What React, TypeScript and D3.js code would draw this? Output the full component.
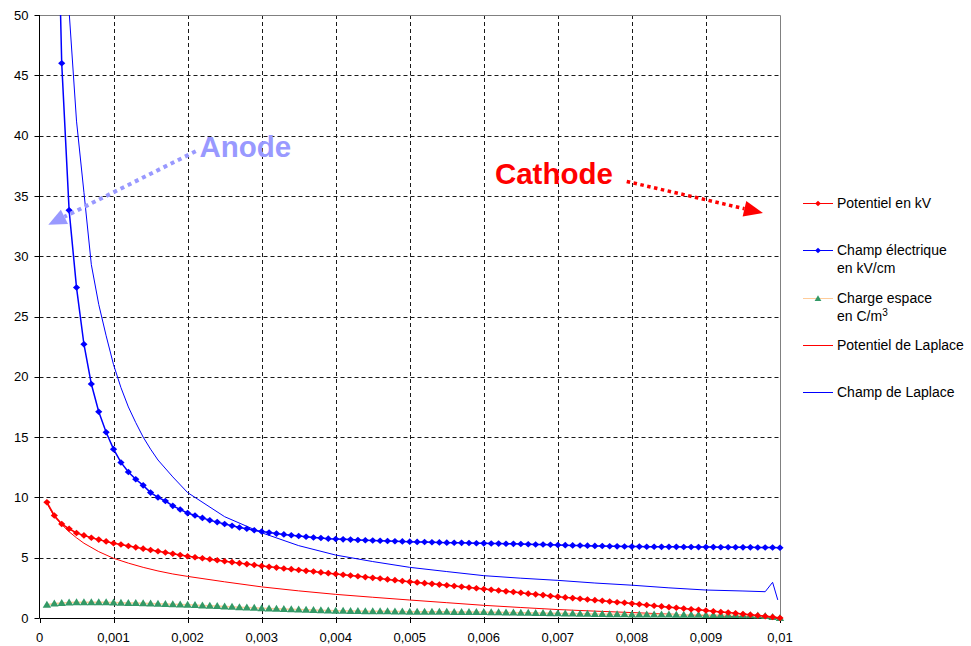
import { useEffect, useRef } from "react";
import * as d3 from "d3";

const W = 971;
const H = 646;

// abscisses communes des séries à marqueurs (m)
const xValues = d3.range(1, 101).map((i) => i / 10000);

const potentiel = [
  9.6, 8.5, 7.8, 7.4, 7.05, 6.85, 6.65, 6.5, 6.35, 6.2,
  6.09, 5.97, 5.86, 5.75, 5.64, 5.54, 5.43, 5.33, 5.22, 5.12,
  5.04, 4.96, 4.87, 4.79, 4.71, 4.63, 4.55, 4.47, 4.39, 4.31,
  4.24, 4.18, 4.11, 4.05, 3.98, 3.91, 3.85, 3.78, 3.72, 3.65,
  3.59, 3.52, 3.46, 3.39, 3.33, 3.27, 3.2, 3.14, 3.07, 3.01,
  2.95, 2.89, 2.83, 2.77, 2.71, 2.65, 2.59, 2.53, 2.47, 2.4,
  2.34, 2.28, 2.21, 2.15, 2.09, 2.02, 1.96, 1.9, 1.83, 1.77,
  1.71, 1.65, 1.6, 1.54, 1.48, 1.43, 1.37, 1.31, 1.26, 1.2,
  1.14, 1.08, 1.02, 0.96, 0.9, 0.85, 0.79, 0.73, 0.68, 0.62,
  0.56, 0.5, 0.45, 0.39, 0.33, 0.27, 0.21, 0.15, 0.08, 0.0,
];

const champ = [
  140, 72, 46, 33.8, 27.4, 22.7, 19.4, 17.1, 15.4, 14.0,
  12.9, 12.1, 11.5, 11.0, 10.4, 10.0, 9.7, 9.3, 9.0, 8.7,
  8.5, 8.3, 8.1, 7.95, 7.8, 7.65, 7.5, 7.4, 7.28, 7.17,
  7.08, 7.0, 6.93, 6.86, 6.8, 6.74, 6.68, 6.63, 6.58, 6.55,
  6.52, 6.5, 6.47, 6.45, 6.43, 6.41, 6.39, 6.37, 6.35, 6.33,
  6.31, 6.3, 6.28, 6.27, 6.25, 6.24, 6.23, 6.22, 6.2, 6.19,
  6.18, 6.17, 6.16, 6.15, 6.13, 6.12, 6.1, 6.09, 6.07, 6.05,
  6.04, 6.02, 6.01, 6.0, 5.98, 5.97, 5.95, 5.94, 5.93, 5.92,
  5.92, 5.91, 5.91, 5.9, 5.9, 5.9, 5.89, 5.89, 5.88, 5.88,
  5.88, 5.87, 5.87, 5.87, 5.86, 5.86, 5.85, 5.85, 5.84, 5.83,
];

const charge = [
  1.1, 1.2, 1.25, 1.28, 1.3, 1.31, 1.31, 1.31, 1.3, 1.28,
  1.27, 1.25, 1.24, 1.22, 1.2, 1.18, 1.16, 1.14, 1.12, 1.1,
  1.07, 1.04, 1.02, 0.99, 0.96, 0.93, 0.9, 0.87, 0.84, 0.81,
  0.79, 0.77, 0.75, 0.73, 0.71, 0.69, 0.67, 0.65, 0.63, 0.61,
  0.6, 0.59, 0.58, 0.57, 0.56, 0.56, 0.55, 0.54, 0.53, 0.52,
  0.52, 0.52, 0.51, 0.51, 0.51, 0.5, 0.5, 0.5, 0.49, 0.49,
  0.48, 0.47, 0.46, 0.45, 0.44, 0.43, 0.42, 0.41, 0.4, 0.39,
  0.38, 0.37, 0.36, 0.35, 0.34, 0.33, 0.32, 0.32, 0.31, 0.3,
  0.3, 0.29, 0.29, 0.28, 0.28, 0.27, 0.27, 0.26, 0.26, 0.25,
  0.25, 0.25, 0.24, 0.24, 0.23, 0.22, 0.2, 0.16, 0.08, 0.0,
];

// courbes de Laplace (traits seuls)
const xPotLaplace = [
  0.0001, 0.0002, 0.0003, 0.0004, 0.0005, 0.0006, 0.0008, 0.001, 0.0012, 0.0014,
  0.0016, 0.0018, 0.002, 0.0025, 0.003, 0.0035, 0.004, 0.0045, 0.005, 0.0055,
  0.006, 0.0065, 0.007, 0.0075, 0.008, 0.0085, 0.009, 0.0095, 0.01,
];
const potLaplace = [
  9.5, 8.4, 7.75, 7.15, 6.65, 6.2, 5.5, 4.95, 4.55, 4.2,
  3.9, 3.65, 3.45, 3.0, 2.58, 2.25, 1.96, 1.72, 1.49, 1.27,
  1.05, 0.87, 0.7, 0.57, 0.45, 0.32, 0.2, 0.1, 0,
];

const xChampLaplace = [
  0.0003, 0.0004, 0.0005, 0.0006, 0.0007, 0.0008, 0.0009, 0.001, 0.0011, 0.0012,
  0.0013, 0.0014, 0.0015, 0.0016, 0.0018, 0.002, 0.0025, 0.003, 0.0035, 0.004,
  0.0045, 0.005, 0.0055, 0.006, 0.0065, 0.007, 0.0075, 0.008, 0.0085, 0.009,
  0.0095, 0.0098, 0.0099, 0.00997,
];
const champLaplace = [
  67, 50.3, 41.2, 35.3, 29.3, 26.0, 23.4, 21.0, 19.1, 17.5,
  16.2, 15.0, 14.0, 13.1, 11.7, 10.4, 8.4, 7.07, 6.0, 5.22,
  4.68, 4.2, 3.85, 3.51, 3.3, 3.12, 2.9, 2.72, 2.5, 2.32,
  2.24, 2.18, 2.96, 1.5,
];

const xTicks = d3.range(0, 11).map((i) => i / 1000);
const yTicks = d3.range(0, 55, 5);

const FONT = "'Liberation Sans', Arial, Helvetica, sans-serif";
const RED = "#FF0000";
const BLUE = "#0000FF";
const GREEN = "#339966";
const PEACH = "#FFCC99";
const ANODE = "#9999FF";

const diamond = "M0,-3.3L3.6,0L0,3.3L-3.6,0Z";
const triangle = "M0,-4L4.2,3L-4.2,3Z";

export default function App() {
  const svgRef = useRef<SVGSVGElement>(null);

  useEffect(() => {
    if (!svgRef.current) return;
    const svg = d3.select(svgRef.current);
    svg.selectAll("*").remove();

    const left = 39.5;
    const right = 780;
    const top = 15;
    const bottom = 618;

    const x = d3.scaleLinear().domain([0, 0.01]).range([left, right]);
    const y = d3.scaleLinear().domain([0, 50]).range([bottom, top]);
    const fmt = d3
      .formatLocale({ decimal: ",", thousands: " ", grouping: [3], currency: ["", ""] })
      .format("~g");

    svg.append("rect").attr("width", W).attr("height", H).attr("fill", "#fff");

    svg
      .append("defs")
      .append("clipPath")
      .attr("id", "plot-clip")
      .append("rect")
      .attr("x", 0)
      .attr("y", top)
      .attr("width", W)
      .attr("height", H - top);

    // grille pointillée
    svg
      .append("g")
      .selectAll("line")
      .data(yTicks.filter((d) => d > 0 && d < 50))
      .join("line")
      .attr("x1", left)
      .attr("x2", right)
      .attr("y1", (d) => Math.round(y(d)) + 0.5)
      .attr("y2", (d) => Math.round(y(d)) + 0.5)
      .attr("stroke", "#1a1a1a")
      .attr("stroke-dasharray", "4,3");

    svg
      .append("g")
      .selectAll("line")
      .data(xTicks.filter((d) => d > 0 && d < 0.01))
      .join("line")
      .attr("x1", (d) => Math.round(x(d)) + 0.5)
      .attr("x2", (d) => Math.round(x(d)) + 0.5)
      .attr("y1", top)
      .attr("y2", bottom)
      .attr("stroke", "#1a1a1a")
      .attr("stroke-dasharray", "4,3");

    // cadre gris haut / droite
    svg
      .append("path")
      .attr("d", `M${left},${top + 0.5}H${right + 0.5}V${bottom}`)
      .attr("fill", "none")
      .attr("stroke", "#808080");

    // axes
    const yAxis = svg.append("g").attr("transform", `translate(${left},0)`);
    yAxis.append("line").attr("y1", top).attr("y2", bottom).attr("stroke", "#000");
    yAxis
      .selectAll("line.tick")
      .data(yTicks)
      .join("line")
      .attr("class", "tick")
      .attr("x1", -5)
      .attr("x2", 0)
      .attr("y1", (d) => Math.round(y(d)) + 0.5)
      .attr("y2", (d) => Math.round(y(d)) + 0.5)
      .attr("stroke", "#000");
    yAxis
      .selectAll("text")
      .data(yTicks)
      .join("text")
      .attr("x", -11)
      .attr("y", (d) => y(d))
      .attr("dy", "0.36em")
      .attr("text-anchor", "end")
      .attr("font-family", FONT)
      .attr("font-size", 13)
      .attr("fill", "#000")
      .text((d) => d);

    const xAxis = svg.append("g").attr("transform", `translate(0,${bottom})`);
    xAxis
      .append("line")
      .attr("x1", left)
      .attr("x2", right)
      .attr("y1", 0.5)
      .attr("y2", 0.5)
      .attr("stroke", "#000");
    xAxis
      .selectAll("line.tick")
      .data(xTicks)
      .join("line")
      .attr("class", "tick")
      .attr("x1", (d) => Math.round(x(d)) + 0.5)
      .attr("x2", (d) => Math.round(x(d)) + 0.5)
      .attr("y1", 0)
      .attr("y2", 5)
      .attr("stroke", "#000");
    xAxis
      .selectAll("text")
      .data(xTicks)
      .join("text")
      .attr("x", (d) => x(d))
      .attr("y", 24)
      .attr("text-anchor", "middle")
      .attr("font-family", FONT)
      .attr("font-size", 13)
      .attr("fill", "#000")
      .text((d) => fmt(d));

    // séries
    const plot = svg.append("g").attr("clip-path", "url(#plot-clip)");
    const line = d3
      .line<[number, number]>()
      .x((d) => x(d[0]))
      .y((d) => y(d[1]));

    const zipped = (xs: number[], ys: number[]) =>
      xs.map((v, i) => [v, ys[i]] as [number, number]);

    plot
      .append("path")
      .attr("d", line(zipped(xPotLaplace, potLaplace)))
      .attr("fill", "none")
      .attr("stroke", RED)
      .attr("stroke-width", 1);

    plot
      .append("path")
      .attr("d", line(zipped(xChampLaplace, champLaplace)))
      .attr("fill", "none")
      .attr("stroke", BLUE)
      .attr("stroke-width", 1);

    const markerSeries = [
      { values: charge, stroke: PEACH, fill: GREEN, shape: triangle },
      { values: potentiel, stroke: RED, fill: RED, shape: diamond },
      { values: champ, stroke: BLUE, fill: BLUE, shape: diamond },
    ];

    markerSeries.forEach((s) => {
      const pts = zipped(xValues, s.values);
      plot
        .append("path")
        .attr("d", line(pts))
        .attr("fill", "none")
        .attr("stroke", s.stroke)
        .attr("stroke-width", 1.5);
      plot
        .append("g")
        .selectAll("path")
        .data(pts)
        .join("path")
        .attr("transform", (d) => `translate(${x(d[0])},${y(d[1])})`)
        .attr("d", s.shape)
        .attr("fill", s.fill);
    });

    // annotations
    const arrow = (
      from: [number, number],
      to: [number, number],
      color: string,
      width: number,
      dash: string,
      len: number,
      half: number
    ) => {
      const p0 = [x(from[0]), y(from[1])];
      const p1 = [x(to[0]), y(to[1])];
      const dx = p1[0] - p0[0];
      const dy = p1[1] - p0[1];
      const n = Math.hypot(dx, dy);
      const ux = dx / n;
      const uy = dy / n;
      const bx = p1[0] - ux * len;
      const by = p1[1] - uy * len;
      svg
        .append("line")
        .attr("x1", p0[0])
        .attr("y1", p0[1])
        .attr("x2", bx)
        .attr("y2", by)
        .attr("stroke", color)
        .attr("stroke-width", width)
        .attr("stroke-dasharray", dash);
      svg
        .append("path")
        .attr(
          "d",
          `M${p1[0]},${p1[1]}L${bx - uy * half},${by + ux * half}L${bx + uy * half},${by - ux * half}Z`
        )
        .attr("fill", color);
    };

    arrow([0.00211, 38.7], [0.000119, 32.6], ANODE, 4, "4,4", 18, 8);
    arrow([0.00793, 36.2], [0.00977, 33.58], RED, 3.5, "3.5,3.5", 19, 8);

    svg
      .append("text")
      .attr("x", x(0.00216))
      .attr("y", y(38.2))
      .attr("font-family", FONT)
      .attr("font-weight", "bold")
      .attr("font-size", 29.5)
      .attr("fill", ANODE)
      .text("Anode");

    svg
      .append("text")
      .attr("x", x(0.00615))
      .attr("y", y(36.0))
      .attr("font-family", FONT)
      .attr("font-weight", "bold")
      .attr("font-size", 29.5)
      .attr("fill", RED)
      .text("Cathode");

    // légende
    const legend = [
      { lines: ["Potentiel en kV"], stroke: RED, fill: RED, shape: diamond },
      { lines: ["Champ électrique", "en kV/cm"], stroke: BLUE, fill: BLUE, shape: diamond },
      { lines: ["Charge espace", "en C/m"], stroke: PEACH, fill: GREEN, shape: triangle, sup: "3" },
      { lines: ["Potentiel de Laplace"], stroke: RED, fill: null, shape: null },
      { lines: ["Champ de Laplace"], stroke: BLUE, fill: null, shape: null },
    ];

    const lg = svg.append("g").attr("transform", "translate(803,203)");
    legend.forEach((item, i) => {
      const g = lg.append("g").attr("transform", `translate(0,${Math.round(i * 47.3)})`);
      g.append("line")
        .attr("x1", 0)
        .attr("x2", 30)
        .attr("y1", 0.5)
        .attr("y2", 0.5)
        .attr("stroke", item.stroke);
      if (item.shape) {
        g.append("path")
          .attr("transform", "translate(15,0.5) scale(0.8)")
          .attr("d", item.shape)
          .attr("fill", item.fill as string);
      }
      item.lines.forEach((t, j) => {
        const txt = g
          .append("text")
          .attr("x", 34)
          .attr("y", 5 + j * 17.5)
          .attr("font-family", FONT)
          .attr("font-size", 14)
          .attr("fill", "#000")
          .text(t);
        if (item.sup && j === item.lines.length - 1) {
          txt
            .append("tspan")
            .attr("dy", -5)
            .attr("font-size", 10)
            .text(item.sup);
        }
      });
    });
  }, []);

  return (
    <svg
      ref={svgRef}
      width={W}
      height={H}
      style={{ position: "absolute", left: 0, top: 0, display: "block" }}
    />
  );
}
